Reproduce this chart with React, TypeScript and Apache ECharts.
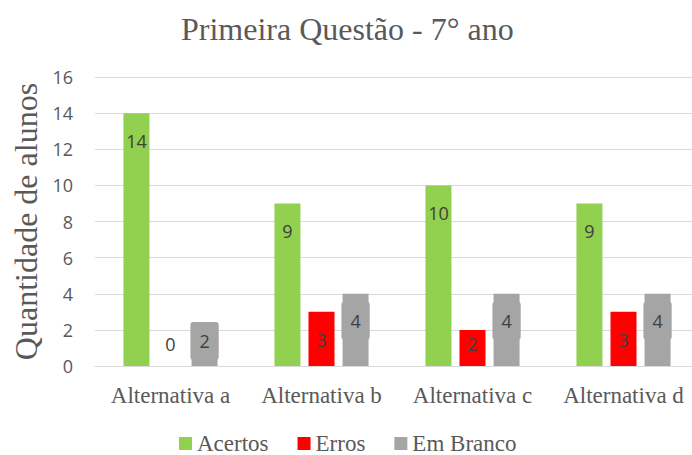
import React, { useEffect, useRef } from "react";
import * as echarts from "echarts";

const categories = ["Alternativa a", "Alternativa b", "Alternativa c", "Alternativa d"];
const acertos = [14, 9, 10, 9];
const erros = [0, 3, 2, 3];
const emBranco = [2, 4, 4, 4];
const seriesNames = ["Acertos", "Erros", "Em Branco"];
const colors = ["#92D050", "#FF0000", "#A5A5A5"];

const serif = "Liberation Serif";
const sans = "Open Sans";

export default function App() {
  const ref = useRef<HTMLDivElement>(null);
  useEffect(() => {
    if (!ref.current) return;
    const chart = echarts.init(ref.current, undefined, { renderer: "svg" });
    const plainLabel = {
      show: true,
      position: "insideTop",
      distance: 19,
      color: "#404040",
      fontFamily: sans,
      fontSize: 18,
    };
    const grayLabel = {
      show: true,
      position: "insideTop",
      distance: 8,
      color: "#404040",
      fontFamily: sans,
      fontSize: 18,
      backgroundColor: "#A5A5A5",
      padding: [10, 9],
      borderRadius: 3,
    };
    const mk = (vals: number[], isGray: boolean) =>
      vals.map((v) => {
        if (v <= 2) {
          return {
            value: v,
            label: isGray
              ? { position: "insideBottom", distance: 6 }
              : { position: "insideBottom", distance: 13 },
          };
        }
        return { value: v };
      });
    chart.setOption({
      animation: false,
      title: {
        text: "Primeira Questão - 7° ano",
        left: 176,
        top: 8,
        textStyle: { fontFamily: serif, fontSize: 32, fontWeight: "normal", color: "#595959" },
      },
      legend: {
        bottom: 0,
        left: 174,
        padding: [0, 5],
        itemWidth: 13,
        itemHeight: 13,
        itemGap: 29,
        icon: "rect",
        formatter: "{s|{name}}",
        textStyle: {
          fontFamily: serif,
          fontSize: 23,
          color: "#595959",
          lineHeight: 16,
          rich: { s: { fontFamily: serif, fontSize: 23, color: "#595959", lineHeight: 16 } },
        },
        data: seriesNames,
      },
      grid: { left: 95, right: 0, top: 77, bottom: 89, containLabel: false },
      xAxis: {
        type: "category",
        data: categories,
        axisLine: { lineStyle: { color: "#D9D9D9" } },
        axisTick: { show: false },
        axisLabel: { fontFamily: serif, fontSize: 23, color: "#595959", margin: 18, interval: 0, hideOverlap: false },
      },
      yAxis: {
        type: "value",
        min: 0,
        max: 16,
        interval: 2,
        name: "Quantidade de alunos",
        nameLocation: "middle",
        nameGap: 49,
        nameTextStyle: { fontFamily: serif, fontSize: 32, color: "#595959" },
        axisLine: { show: false },
        axisTick: { show: false },
        axisLabel: { fontFamily: sans, fontSize: 18, color: "#595959", margin: 22 },
        splitLine: { lineStyle: { color: "#D9D9D9", width: 1 } },
      },
      series: [
        { name: seriesNames[0], type: "bar", data: mk(acertos, false), barWidth: 26, barGap: "31%", itemStyle: { color: colors[0] }, label: plainLabel },
        { name: seriesNames[1], type: "bar", data: mk(erros, false), barWidth: 26, barGap: "31%", itemStyle: { color: colors[1] }, label: plainLabel },
        { name: seriesNames[2], type: "bar", data: mk(emBranco, true), barWidth: 26, barGap: "31%", itemStyle: { color: colors[2] }, label: grayLabel },
      ],
    });
    return () => chart.dispose();
  }, []);
  return (
    <div style={{ width: 692, height: 455, position: "absolute", left: 0, top: 0, overflow: "hidden" }}>
      <div ref={ref} style={{ width: 699, height: 455 }} />
    </div>
  );
}
